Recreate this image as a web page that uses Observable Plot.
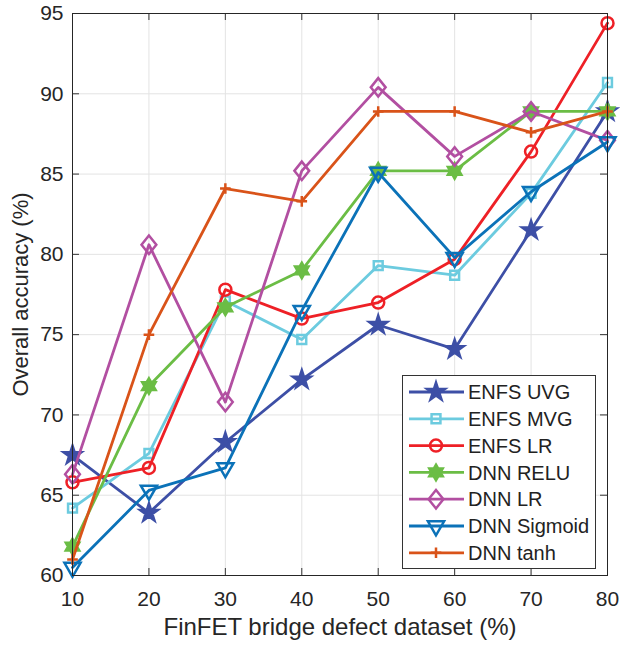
<!DOCTYPE html>
<html><head><meta charset="utf-8">
<script src="https://cdn.jsdelivr.net/npm/d3@7"></script>
<script src="https://cdn.jsdelivr.net/npm/@observablehq/plot@0.6"></script>
<style>
body{margin:0;background:#fff;font-family:"Liberation Sans",Arial,sans-serif;}
#wrap{position:relative;width:620px;height:647px;}
#legend{position:absolute;left:402px;top:375px;width:192px;height:192px;border:1px solid #333;background:#fff;}
</style></head>
<body><div id="wrap"></div>
<script>
const datasetPct = [10, 20, 30, 40, 50, 60, 70, 80];
const seriesNames = ["ENFS UVG", "ENFS MVG", "ENFS LR", "DNN RELU", "DNN LR", "DNN Sigmoid", "DNN tanh"];
const enfsUVG   = [67.5, 63.9, 68.3, 72.2, 75.6, 74.1, 81.5, 88.9];
const enfsMVG   = [64.2, 67.6, 77.1, 74.7, 79.3, 78.7, 83.8, 90.7];
const enfsLR    = [65.8, 66.7, 77.8, 76.0, 77.0, 79.7, 86.4, 94.4];
const dnnRELU   = [61.8, 71.8, 76.7, 79.0, 85.2, 85.2, 88.9, 88.9];
const dnnLR     = [66.3, 80.6, 70.8, 85.2, 90.4, 86.1, 88.9, 87.1];
const dnnSigmoid= [60.5, 65.3, 66.7, 76.5, 85.1, 79.8, 83.9, 87.0];
const dnnTanh   = [61.0, 75.0, 84.1, 83.3, 88.9, 88.9, 87.6, 88.9];
const xTicks = [10, 20, 30, 40, 50, 60, 70, 80];
const yTicks = [60, 65, 70, 75, 80, 85, 90, 95];

const seriesValues = [enfsUVG, enfsMVG, enfsLR, dnnRELU, dnnLR, dnnSigmoid, dnnTanh];
const colors = ["#3D4FA6", "#6CCBDF", "#EE2026", "#6BBD45", "#B24FA1", "#0B72B8", "#D95319"];

// custom marker shapes
const triDown = {draw(ctx, size){const y=Math.sqrt(size/(Math.sqrt(3)*3));ctx.moveTo(0,2*y);ctx.lineTo(-Math.sqrt(3)*y,-y);ctx.lineTo(Math.sqrt(3)*y,-y);ctx.closePath();}};
const hexagram = {draw(ctx, size){const R=Math.sqrt(size/2.2), r=R/Math.sqrt(3);for(let i=0;i<12;i++){const a=-Math.PI/2+i*Math.PI/6, rr=i%2?r:R;const px=rr*Math.cos(a), py=rr*Math.sin(a);i?ctx.lineTo(px,py):ctx.moveTo(px,py);}ctx.closePath();}};
const diamondTall = {draw(ctx, size){const h=Math.sqrt(size/1.6), w=h*0.8;ctx.moveTo(0,-h);ctx.lineTo(w,0);ctx.lineTo(0,h);ctx.lineTo(-w,0);ctx.closePath();}};
const squareS = {draw(ctx,size){const s=Math.sqrt(size)/2;ctx.rect(-s,-s,2*s,2*s);}};
const plusS = {draw(ctx,size){const s=Math.sqrt(size)/2;ctx.moveTo(-s,0);ctx.lineTo(s,0);ctx.moveTo(0,-s);ctx.lineTo(0,s);}};
const markerSpec = [
  {symbol: d3.symbolStar, r: 5.6, filled: true},
  {symbol: squareS, r: 5.0, filled: false},
  {symbol: d3.symbolCircle, r: 6.0, filled: false},
  {symbol: hexagram, r: 6.5, filled: true},
  {symbol: diamondTall, r: 6.6, filled: false},
  {symbol: triDown, r: 6.0, filled: false},
  {symbol: plusS, r: 6.0, filled: false}
];

const rows = [];
seriesNames.forEach((s, i) => datasetPct.forEach((x, j) => rows.push({series: s, x, y: seriesValues[i][j]})));

const font = '"Liberation Sans", Arial, sans-serif';
const marks = [
  Plot.gridX(xTicks, {stroke: "#e3e3e3", strokeOpacity: 1}),
  Plot.gridY(yTicks, {stroke: "#e3e3e3", strokeOpacity: 1}),
  Plot.tickX(xTicks, {x: d => d, insetTop: 555, stroke: "#333"}),
  Plot.tickX(xTicks, {x: d => d, insetBottom: 555, stroke: "#333"}),
  Plot.tickY(yTicks, {y: d => d, insetRight: 528, stroke: "#333"}),
  Plot.tickY(yTicks, {y: d => d, insetLeft: 528, stroke: "#333"}),
  Plot.axisX(xTicks, {tickSize: 0, tickPadding: 16, fontSize: 21, fill: "#262626", label: null}),
  Plot.axisY(yTicks, {tickSize: 0, tickPadding: 9, fontSize: 21, fill: "#262626", label: null}),
];
seriesNames.forEach((s, i) => {
  const d = rows.filter(r => r.series === s);
  const m = markerSpec[i];
  marks.push(Plot.line(d, {x: "x", y: "y", stroke: colors[i], strokeWidth: 2.8}));
  marks.push(Plot.dot(d, {x: "x", y: "y", symbol: m.symbol, r: m.r, stroke: colors[i], strokeWidth: 2.5, fill: m.filled ? colors[i] : "none"}));
});
marks.push(Plot.frame({stroke: "#262626", strokeWidth: 1}));
marks.push(Plot.text(["FinFET bridge defect dataset (%)"], {frameAnchor: "bottom", dy: 59, text: d => d, fontSize: 24, fill: "#262626"}));
marks.push(Plot.text(["Overall accuracy (%)"], {frameAnchor: "left", textAnchor: "middle", dx: -52, rotate: -90, text: d => d, fontSize: 22, fill: "#262626"}));

const chart = Plot.plot({
  width: 620, height: 647,
  marginLeft: 72, marginRight: 13, marginTop: 13, marginBottom: 72,
  style: {fontFamily: font, background: "#fff"},
  x: {domain: [10, 80]},
  y: {domain: [60, 95]},
  marks
});
const wrap = document.getElementById("wrap");
wrap.appendChild(chart);

// legend
const leg = document.createElement("div");
leg.id = "legend";
wrap.appendChild(leg);
const svg = d3.select(leg).append("svg").attr("width", 192).attr("height", 192);
seriesNames.forEach((s, i) => {
  const y = 16 + i * 26.8;
  const g = svg.append("g").attr("transform", `translate(0,${y})`);
  g.append("line").attr("x1", 6).attr("x2", 61).attr("stroke", colors[i]).attr("stroke-width", 2.8);
  const m = markerSpec[i];
  g.append("path").attr("transform", "translate(33,0)")
    .attr("d", d3.symbol(m.symbol, Math.PI * m.r * m.r)())
    .attr("stroke", colors[i]).attr("stroke-width", 2.5).attr("fill", m.filled ? colors[i] : "none");
  g.append("text").attr("x", 65).attr("dy", "0.36em").attr("font-size", 20).attr("fill", "#222")
    .style("font-family", font).text(s);
});
</script></body></html>
